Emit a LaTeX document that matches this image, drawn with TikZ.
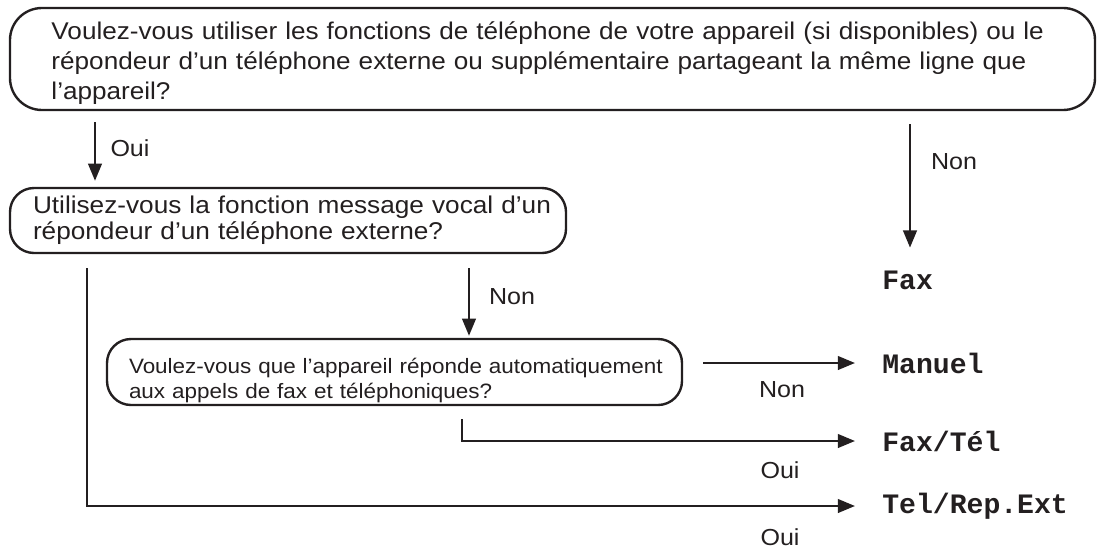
\documentclass[tikz,border=0pt]{standalone}
\usepackage{fontspec}
\setmainfont{Liberation Sans}[FakeStretch=1.08]
\setmonofont{Liberation Mono}
\usetikzlibrary{arrows.meta,positioning,calc}
\definecolor{inkgray}{RGB}{35,31,32}
\tikzset{
  question/.style={draw=inkgray, line width=1.7pt, align=left, inner ysep=0pt, text=inkgray},
  flowarrow/.style={draw=inkgray, line width=1.7pt, -{Triangle[length=4.3mm,width=3.4mm]}},
  answer/.style={font=\fontsize{16.5}{19}\selectfont, text=inkgray},
  setting/.style={font=\fontsize{20}{22}\selectfont\ttfamily\bfseries, text=inkgray, anchor=west, inner xsep=0pt},
}

\begin{document}
\begin{tikzpicture}
  \useasboundingbox (0,0) rectangle (27.525,-13.825);
  % questions
  \node[question, rounded corners=0.8cm, text width=25.05cm, inner xsep=1.0375cm,
        minimum height=2.55cm, font=\fontsize{17.2}{21.5}\selectfont] (qphone) at (13.8125,-1.475)
       {\rule{0pt}{18.5pt}\mbox{Voulez-vous utiliser les fonctions de téléphone de votre appareil (si disponibles) ou le}\\
        \mbox{répondeur d'un téléphone externe ou supplémentaire partageant la même ligne que}\\
        l'appareil?};
  \node[question, rounded corners=0.6cm, text width=12.75cm, inner xsep=0.575cm,
        minimum height=1.625cm, font=\fontsize{17.25}{18.8}\selectfont] (qvocal) at (7.2,-5.5125)
       {\mbox{Utilisez-vous la fonction message vocal d'un}\\
        \mbox{répondeur d'un téléphone externe?}};
  \node[question, rounded corners=0.6cm, text width=13.275cm, inner xsep=0.55cm,
        minimum height=1.65cm, font=\fontsize{14.8}{17.5}\selectfont] (qauto) at (9.8625,-9.3)
       {\rule{0pt}{23pt}\mbox{Voulez-vous que l'appareil réponde automatiquement}\\
        \mbox{aux appels de fax et téléphoniques?}};
  % settings
  \node[setting] (fax) at (22.05,-7.0) {Fax};
  \node[setting] (manuel) at (22.05,-9.075) {Manuel};
  \node[setting] (faxtel) at (22.05,-11.025) {Fax/Tél};
  \node[setting] (telrep) at (22.05,-12.65) {Tel/Rep.Ext};
  % connectors
  \draw[flowarrow] ([yshift=-0.275cm]qphone.south -| 2.375,0) -- ([yshift=0.15cm]qvocal.north -| 2.375,0);
  \draw[flowarrow] ([yshift=-0.325cm]qphone.south -| 22.75,0) -- ([yshift=0.45cm]fax.north -| 22.75,0);
  \draw[flowarrow] ([yshift=-0.35cm]qvocal.south -| 11.725,0) -- ([yshift=0.05cm]qauto.north -| 11.725,0);
  \draw[flowarrow] ([xshift=0.5cm]qauto.east |- manuel) -- ([xshift=-0.675cm]manuel.west);
  \draw[flowarrow] ([yshift=-0.325cm]qauto.south -| 11.55,0) |- ([xshift=-0.675cm]faxtel.west);
  \draw[flowarrow] ([yshift=-0.35cm]qvocal.south -| 2.175,0) |- ([xshift=-0.675cm]telrep.west);
  % answers
  \node[answer] (oui1) at (3.25,-3.7) {Oui};
  \node[answer] (non1) at (23.85,-4.05) {Non};
  \node[answer] (non2) at (12.8,-7.425) {Non};
  \node[answer] (non3) at (19.55,-9.75) {Non};
  \node[answer] (oui2) at (19.5,-11.75) {Oui};
  \node[answer] (oui3) at (19.5,-13.425) {Oui};
\end{tikzpicture}
\end{document}
